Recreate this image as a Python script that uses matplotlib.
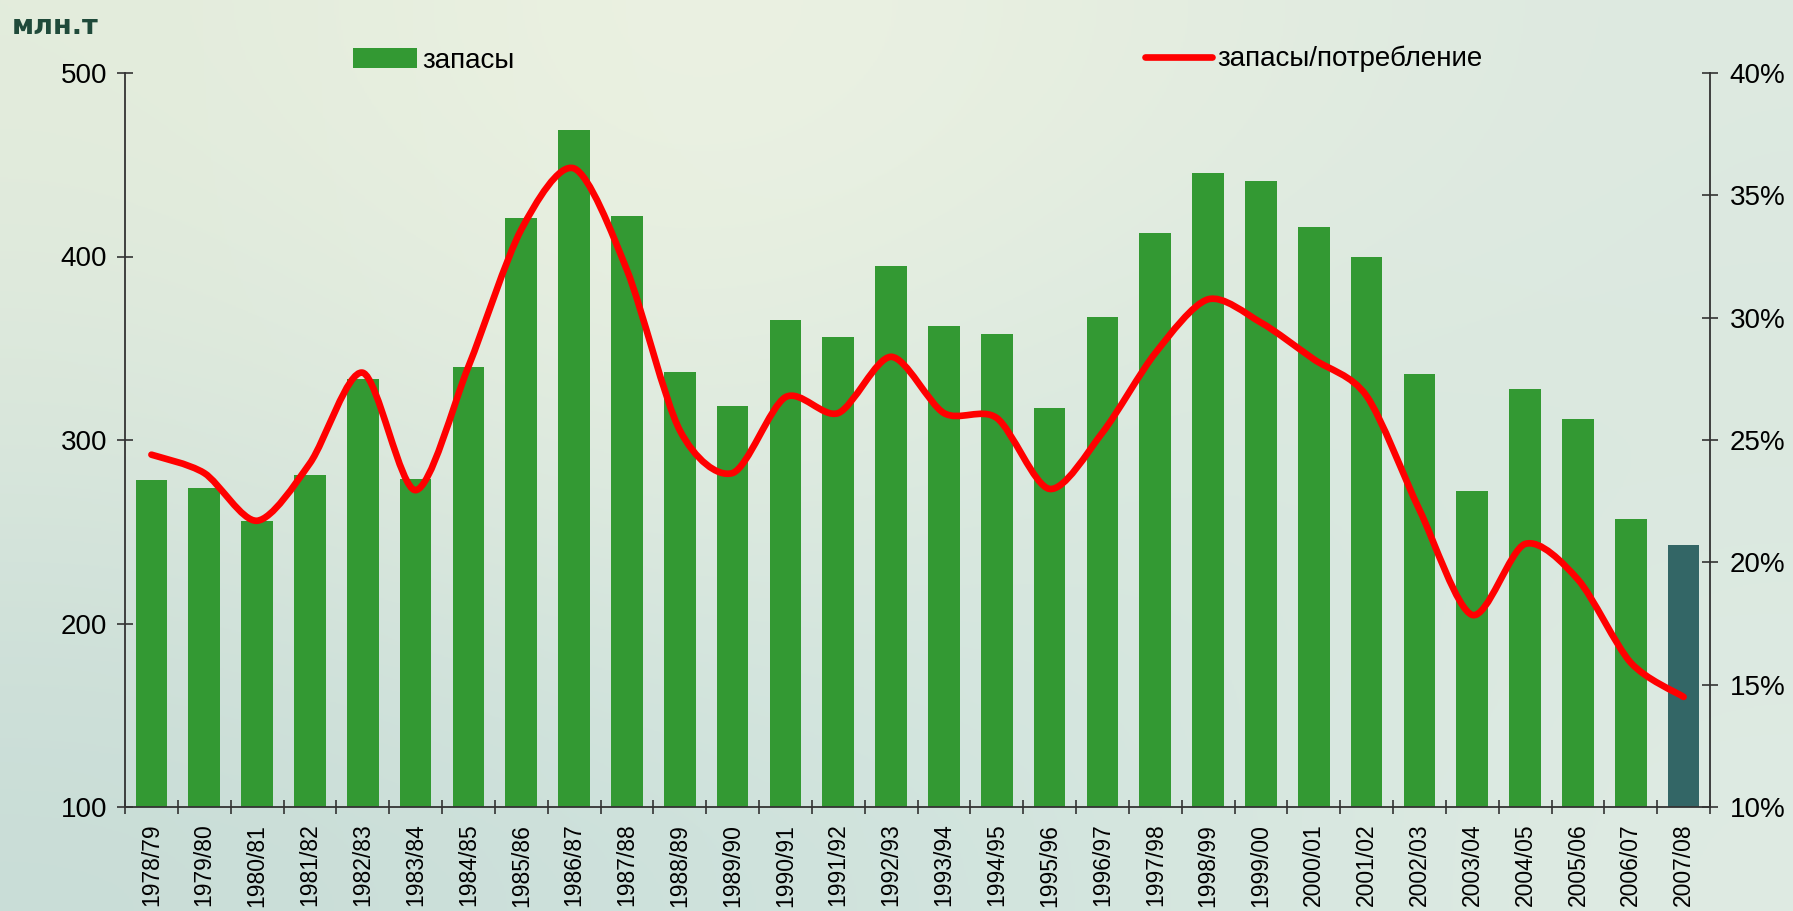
import numpy as np
import matplotlib
matplotlib.use('Agg')
import matplotlib.pyplot as plt
from matplotlib.path import Path
from matplotlib.patches import PathPatch, Patch
from matplotlib.lines import Line2D
from matplotlib.colors import to_rgb
from matplotlib.ticker import StrMethodFormatter

plt.rcParams['font.family'] = ['Liberation Sans', 'DejaVu Sans']

# seasons on x axis
seasons = ['1978/79', '1979/80', '1980/81', '1981/82', '1982/83', '1983/84',
           '1984/85', '1985/86', '1986/87', '1987/88', '1988/89', '1989/90',
           '1990/91', '1991/92', '1992/93', '1993/94', '1994/95', '1995/96',
           '1996/97', '1997/98', '1998/99', '1999/00', '2000/01', '2001/02',
           '2002/03', '2003/04', '2004/05', '2005/06', '2006/07', '2007/08']

# запасы, млн.т
stocks = [278, 274, 256, 281, 333, 279, 340, 421, 469, 422,
          337, 318.5, 365.5, 356, 395, 362, 358, 317.5, 367, 413,
          445.5, 441, 416, 400, 336, 272, 328, 311.5, 257, 243]

# запасы/потребление, %
ratio = [24.4, 23.65, 21.7, 24.05, 27.75, 22.95, 28.0, 33.6, 36.1, 31.95,
         25.4, 23.65, 26.75, 26.1, 28.4, 26.1, 25.9, 23.0, 25.3, 28.55,
         30.75, 29.8, 28.3, 26.8, 22.15, 17.85, 20.75, 19.3, 15.9, 14.5]

left_ticks = [100, 200, 300, 400, 500]
right_ticks = [10, 15, 20, 25, 30, 35, 40]

GREEN = '#339933'
LAST = '#336666'
RED = '#ff0000'

fig = plt.figure(figsize=(17.93, 9.11), dpi=100)

# background gradient
bg = fig.add_axes([0, 0, 1, 1], zorder=-10)
grid = [['#e3ecdc', '#eef3e3', '#e6eee0', '#dde9e1'],
        ['#d8e6dc', '#e3ede0', '#d6e7df', '#dae8df'],
        ['#c9ddd7', '#cde1dc', '#d3e5de', '#dfebe3']]
img = np.array([[to_rgb(c) for c in row] for row in grid])
bg.imshow(img, aspect='auto', interpolation='bicubic', extent=[0, 1, 0, 1])
bg.set_axis_off()

ax = fig.add_axes([125 / 1793, 1 - 807 / 911, (1710 - 125) / 1793, (807 - 73) / 911])
ax.set_facecolor('none')

x = np.arange(len(seasons))
colors = [GREEN] * (len(seasons) - 1) + [LAST]
ax.bar(x, stocks, width=0.6, color=colors, zorder=2)

ax.set_xlim(-0.5, len(seasons) - 0.5)
ax.set_ylim(100, 500)
ax.set_yticks(left_ticks)
ax.set_xticks(np.arange(len(seasons) + 1) - 0.5)
ax.set_xticklabels([])
ax.set_xticks(x, seasons, minor=True, rotation=90)

axis_col = '#333333'
for s in ['top', 'right']:
    ax.spines[s].set_visible(False)
for s in ['left', 'bottom']:
    ax.spines[s].set_color(axis_col)
    ax.spines[s].set_linewidth(1.3)

ax.tick_params(axis='y', direction='inout', length=12, width=1.2, color=axis_col,
               labelsize=20, pad=7)
ax.tick_params(axis='x', which='major', direction='inout', length=10, width=1.2,
               color=axis_col)
ax.tick_params(axis='x', which='minor', length=0, labelsize=16.5, pad=12)

# secondary axis with smoothed ratio line
ax2 = ax.twinx()
ax2.set_ylim(10, 40)
ax2.set_yticks(right_ticks)
ax2.yaxis.set_major_formatter(StrMethodFormatter('{x:.0f}%'))
for s in ['top', 'left', 'bottom']:
    ax2.spines[s].set_visible(False)
ax2.spines['right'].set_color(axis_col)
ax2.spines['right'].set_linewidth(1.3)
ax2.tick_params(axis='y', direction='inout', length=12, width=1.2, color=axis_col,
                labelsize=20, pad=8)

pts = np.column_stack([x, ratio]).astype(float)
n = len(pts)
verts = [pts[0]]
codes = [Path.MOVETO]
for i in range(n - 1):
    p0 = pts[max(i - 1, 0)]
    p1 = pts[i]
    p2 = pts[i + 1]
    p3 = pts[min(i + 2, n - 1)]
    verts += [p1 + (p2 - p0) / 7, p2 - (p3 - p1) / 7, p2]
    codes += [Path.CURVE4] * 3
ax2.add_patch(PathPatch(Path(verts, codes), facecolor='none', edgecolor=RED,
                        linewidth=4.8, capstyle='round', joinstyle='round', zorder=3))

# legends
leg1 = fig.legend(handles=[Patch(facecolor=GREEN, label='запасы')],
                  loc='center left', bbox_to_anchor=(353 / 1793, 1 - 61 / 911),
                  frameon=False, fontsize=20, handlelength=2.3, handleheight=0.75,
                  handletextpad=0.2, borderpad=0, borderaxespad=0)
leg2 = fig.legend(handles=[Line2D([], [], color=RED, linewidth=4.8,
                                  solid_capstyle='round', label='запасы/потребление')],
                  loc='center left', bbox_to_anchor=(1145 / 1793, 1 - 59 / 911),
                  frameon=False, fontsize=20, handlelength=2.4,
                  handletextpad=0.2, borderpad=0, borderaxespad=0)

fig.text(12 / 1793, 1 - 14 / 911, 'млн.т', fontsize=19.5, fontweight='bold',
         color='#1f4a3a', family='DejaVu Sans', va='top', ha='left')

fig.savefig('out.png', dpi=100)
